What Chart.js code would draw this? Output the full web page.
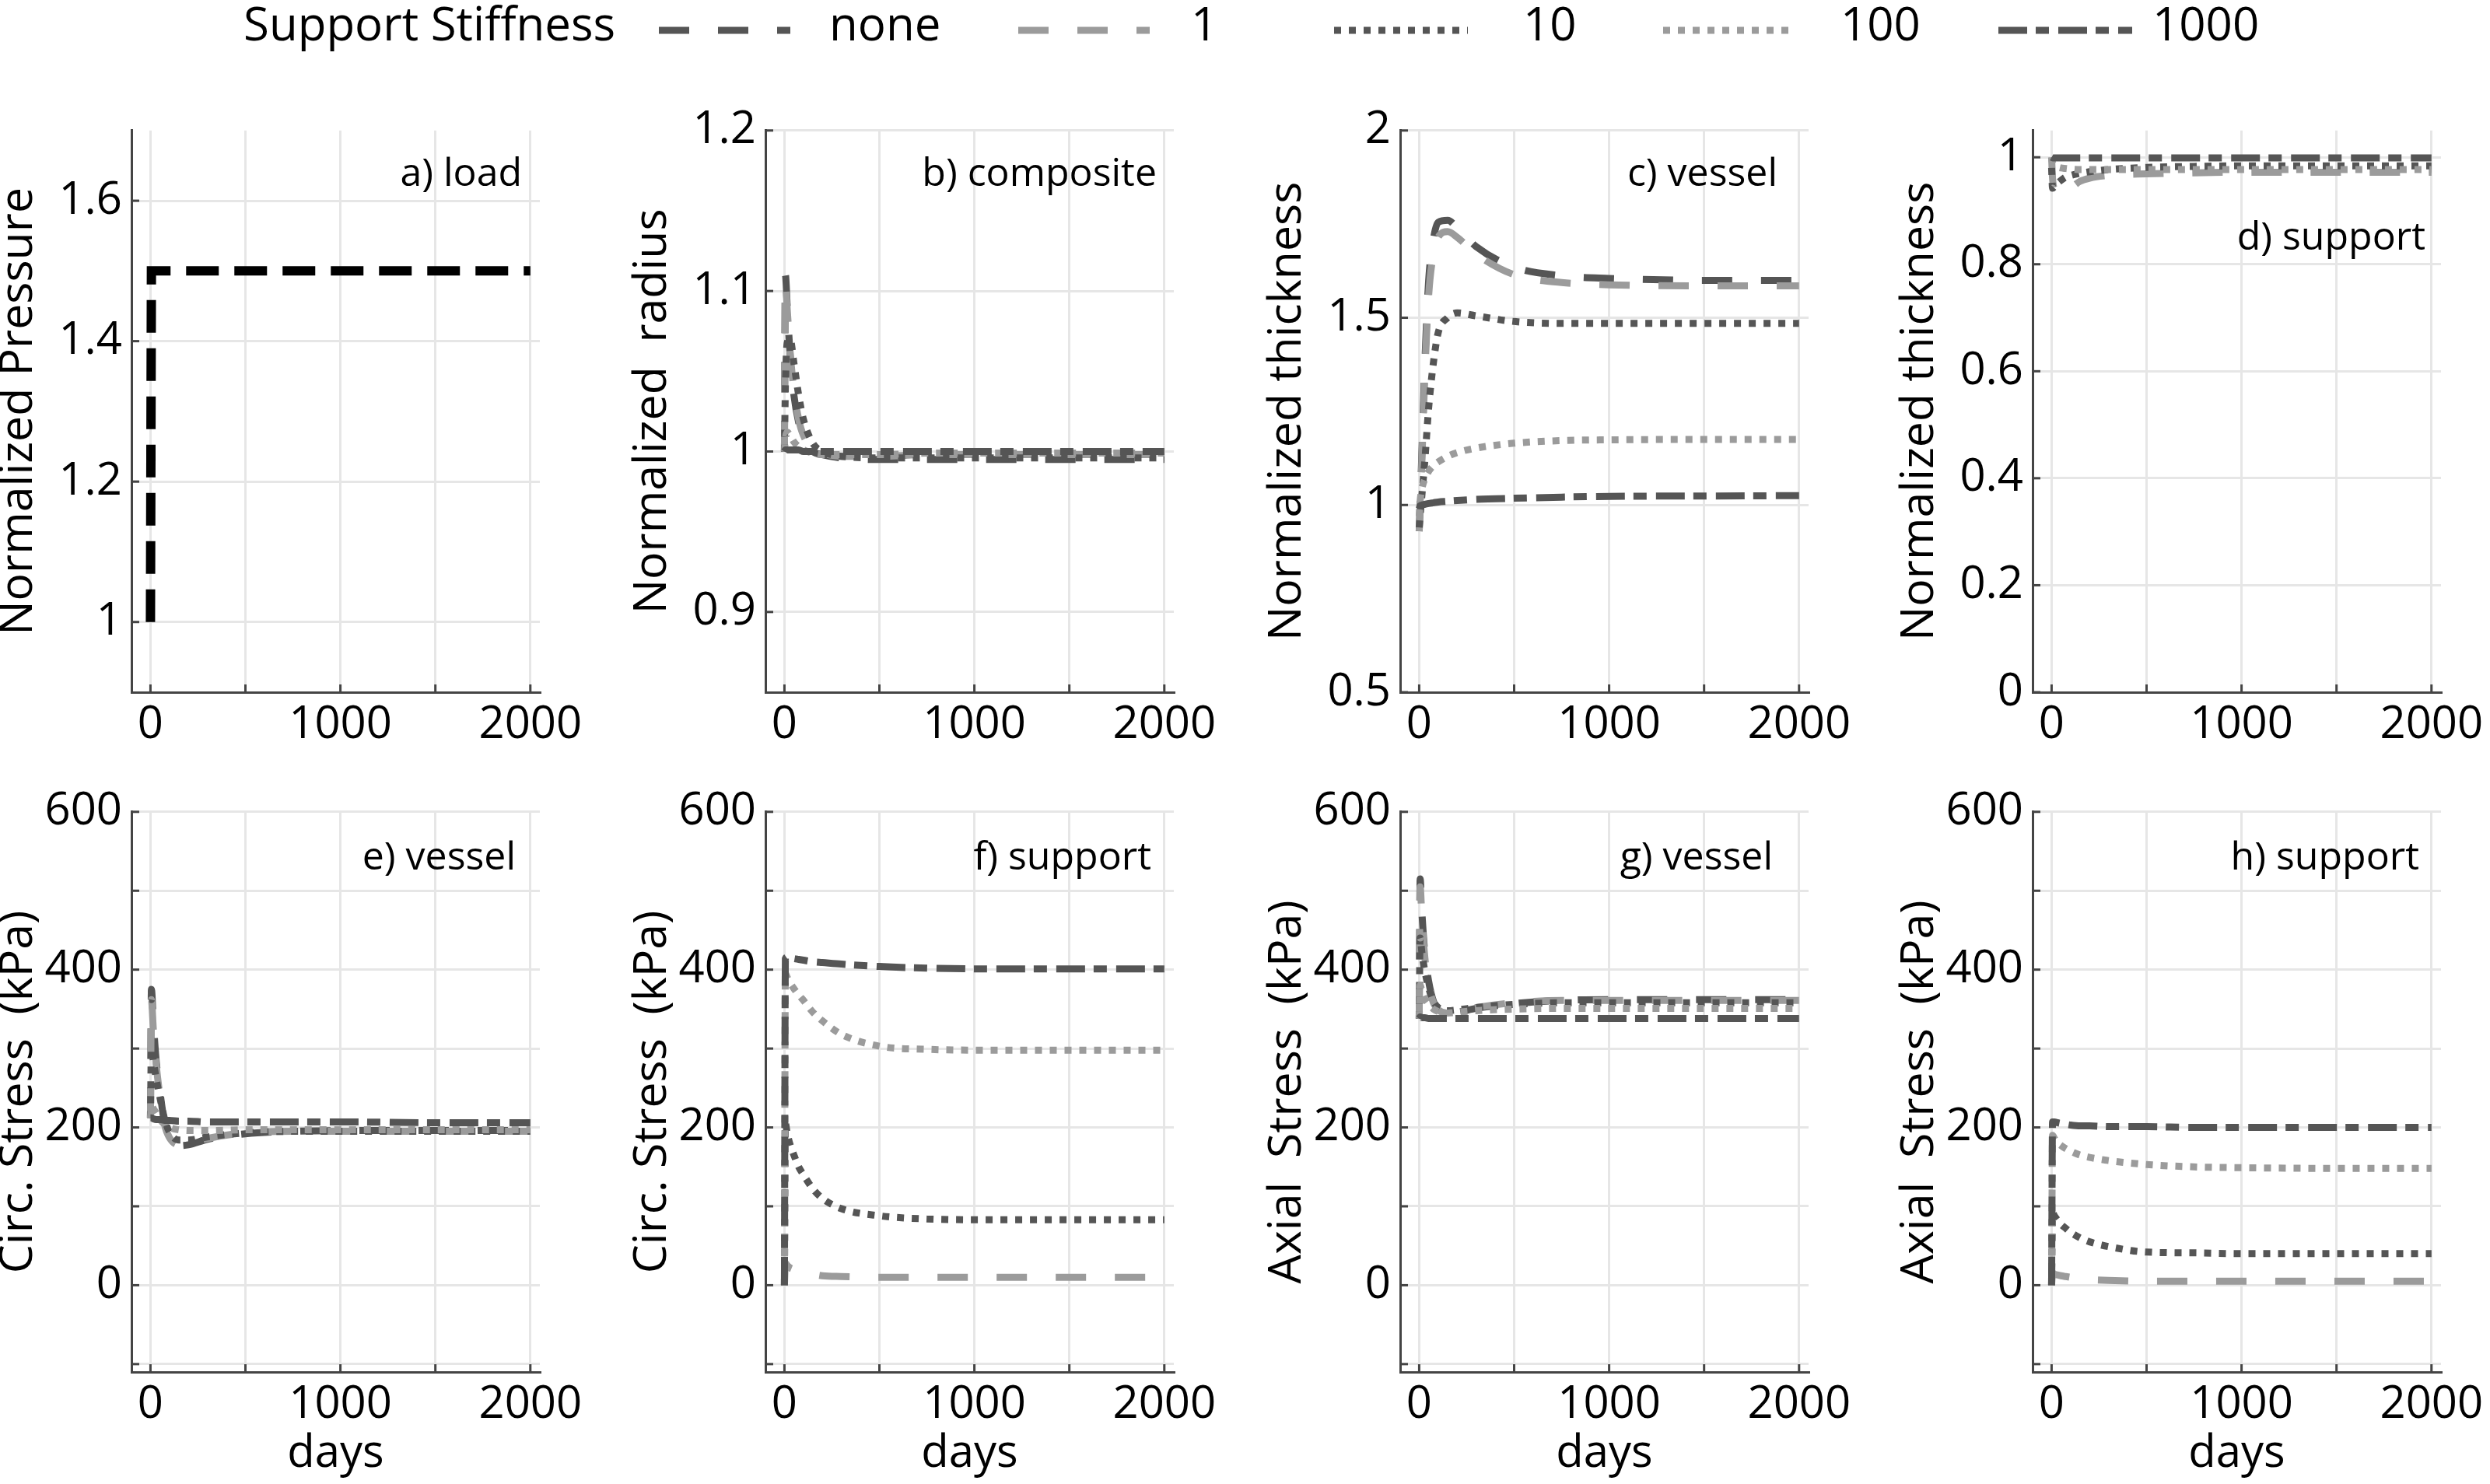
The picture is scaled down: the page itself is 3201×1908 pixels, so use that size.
<!DOCTYPE html>
<html>
<head>
<meta charset="utf-8">
<script src="https://cdn.jsdelivr.net/npm/chart.js@4.4.1/dist/chart.umd.min.js"></script>
<style>
  body { margin: 0; background: #fff; width: 3201px; height: 1908px; overflow: hidden; position: relative; }
  canvas { position: absolute; }
</style>
</head>
<body>
<canvas id="legend" width="3201" height="90" style="left:0;top:0"></canvas>
<script>
// time axis shared by all model curves (days)
const days = [0, 5, 15, 30, 50, 75, 100, 150, 200, 300, 500, 750, 1000, 1500, 2000];
const seriesNames = ["none", "1", "10", "100", "1000"];

// a) load
const loadDays = [0, 5, 2000];
const loadPressure = [1, 1.5, 1.5];

// b) composite radius
const radNone = [1.0, 1.11, 1.09, 1.06, 1.035, 1.018, 1.008, 1.0, 0.998, 0.996, 0.995, 0.995, 0.995, 0.995, 0.995];
const radOne = [1.0, 1.105, 1.088, 1.062, 1.038, 1.02, 1.01, 1.002, 0.999, 0.997, 0.997, 0.998, 0.998, 0.998, 0.998];
const radTen = [1.0, 1.04, 1.068, 1.07, 1.055, 1.035, 1.02, 1.005, 1.0, 0.997, 0.996, 0.996, 0.996, 0.996, 0.996];
const radHundred = [1.0, 1.008, 1.012, 1.01, 1.006, 1.003, 1.001, 0.999, 0.998, 0.998, 0.998, 0.999, 0.999, 0.999, 0.999];
const radThousand = [1.0, 1.001, 1.001, 1.001, 1.001, 1.001, 1.0, 1.0, 1.0, 1.0, 1.0, 1.0, 1.0, 1.0, 1.0];

// c) vessel thickness
const thkNone = [0.93, 1.0, 1.15, 1.38, 1.6, 1.71, 1.755, 1.76, 1.74, 1.69, 1.635, 1.612, 1.605, 1.6, 1.6];
const thkOne = [0.93, 0.99, 1.13, 1.35, 1.56, 1.67, 1.715, 1.73, 1.715, 1.67, 1.615, 1.594, 1.588, 1.585, 1.585];
const thkTen = [0.94, 0.97, 1.03, 1.12, 1.26, 1.38, 1.46, 1.5, 1.513, 1.505, 1.49, 1.485, 1.485, 1.485, 1.485];
const thkHundred = [0.97, 1.01, 1.045, 1.07, 1.09, 1.105, 1.115, 1.13, 1.14, 1.152, 1.165, 1.172, 1.174, 1.175, 1.175];
const thkThousand = [0.99, 0.998, 1.0, 1.002, 1.004, 1.006, 1.008, 1.01, 1.012, 1.015, 1.018, 1.021, 1.023, 1.024, 1.025];

// d) support thickness
const supOne = [1.0, 0.96, 0.94, 0.933, 0.931, 0.935, 0.942, 0.955, 0.961, 0.966, 0.969, 0.971, 0.972, 0.972, 0.972];
const supTen = [0.98, 0.942, 0.945, 0.951, 0.957, 0.963, 0.966, 0.97, 0.973, 0.977, 0.981, 0.983, 0.984, 0.984, 0.984];
const supHundred = [1.0, 0.99, 0.985, 0.982, 0.98, 0.979, 0.978, 0.977, 0.977, 0.977, 0.977, 0.977, 0.977, 0.977, 0.977];
const supThousand = [1.0, 0.999, 0.999, 0.999, 0.999, 0.999, 0.999, 0.999, 0.999, 0.999, 0.999, 0.999, 0.999, 0.999, 0.999];

// e) vessel circumferential stress (kPa)
const circNone = [212, 375, 335, 285, 245, 205, 188, 177, 178, 185, 192, 195, 196, 196, 196];
const circOne = [212, 362, 325, 280, 240, 203, 187, 178, 179, 186, 193, 195, 195, 195, 195];
const circTen = [212, 300, 285, 262, 238, 210, 194, 184, 184, 188, 193, 195, 195, 195, 195];
const circHundred = [212, 228, 224, 218, 210, 204, 200, 197, 196, 196, 197, 197, 197, 197, 197];
const circThousand = [212, 212, 211, 210, 210, 209, 209, 208, 208, 207, 207, 207, 207, 206, 206];

// f) support circumferential stress (kPa)
const supCircOne = [0, 28, 25, 22, 20, 18, 16, 14, 12, 11, 10, 10, 10, 10, 10];
const supCircTen = [0, 205, 192, 178, 165, 150, 140, 122, 110, 97, 88, 84, 83, 83, 83];
const supCircHundred = [0, 395, 390, 383, 376, 368, 361, 346, 335, 318, 303, 299, 298, 298, 298];
const supCircThousand = [0, 414, 416, 415, 414, 413, 412, 410, 409, 407, 404, 402, 401, 401, 401];

// g) vessel axial stress (kPa)
const axNone = [338, 515, 470, 420, 385, 360, 350, 345, 346, 351, 357, 361, 362, 362, 362];
const axOne = [338, 505, 462, 415, 380, 358, 349, 345, 347, 352, 358, 361, 361, 361, 361];
const axTen = [338, 440, 420, 398, 377, 360, 352, 348, 349, 352, 356, 358, 358, 358, 358];
const axHundred = [338, 380, 372, 363, 356, 350, 347, 345, 346, 348, 350, 351, 351, 351, 351];
const axThousand = [338, 340, 339, 339, 338, 338, 338, 338, 338, 338, 338, 338, 338, 338, 338];

// h) support axial stress (kPa)
const supAxOne = [0, 16, 14, 13, 12, 11, 10, 8, 7, 6, 5, 5, 5, 5, 5];
const supAxTen = [0, 92, 88, 83, 77, 72, 67, 60, 55, 49, 42, 41, 40, 40, 40];
const supAxHundred = [0, 190, 186, 181, 177, 173, 170, 165, 162, 158, 153, 150, 149, 148, 148];
const supAxThousand = [0, 207, 207, 206, 205, 204, 203, 202, 202, 201, 201, 200, 200, 200, 200];

// ticks
const dayTicks = [0, 500, 1000, 1500, 2000];
const dayLabels = [0, 1000, 2000];
const pressureTicks = [1, 1.2, 1.4, 1.6];
const radiusTicks = [0.9, 1, 1.1, 1.2];
const vesselThickTicks = [0.5, 1, 1.5, 2];
const supportThickTicks = [0, 0.2, 0.4, 0.6, 0.8, 1];
const stressTicks = [-100, 0, 100, 200, 300, 400, 500, 600];
const stressLabels = [0, 200, 400, 600];

const DARK = "#555555";
const LIGHT = "#9b9b9b";
const seriesStyle = {
  "none": { color: DARK, dash: [39, 37] },
  "1": { color: LIGHT, dash: [39, 37] },
  "10": { color: DARK, dash: [9, 10] },
  "100": { color: LIGHT, dash: [9, 10] },
  "1000": { color: DARK, dash: [37, 11, 17, 12] }
};

// layout of the 2x4 grid (page pixels)
const axisLeft = [169, 984, 1800, 2613];
const rowTop = [161, 1037];
const rowPlotH = [729, 727];
const plotW = 525;
const yAxisW = 200, padTop = 40, padRight = 64;
const xAxisH = [100, 145];

function lineSet(name, xs, ys, i) {
  const st = seriesStyle[name];
  return {
    label: name,
    data: xs.map((x, k) => ({ x: x, y: ys[k] })),
    borderColor: st.color,
    borderDash: st.dash,
    borderWidth: 9,
    borderCapStyle: "butt",
    borderJoinStyle: "round",
    cubicInterpolationMode: "monotone",
    pointRadius: 0,
    fill: false,
    order: 10 - i
  };
}

function curves(names, arrays) {
  return names.map((n, i) => lineSet(n, days, arrays[i], seriesNames.indexOf(n)));
}

const loadSet = {
  label: "load",
  data: loadDays.map((x, k) => ({ x: x, y: loadPressure[k] })),
  borderColor: "#000",
  borderDash: [42, 20],
  borderWidth: 12,
  borderCapStyle: "butt",
  pointRadius: 0,
  fill: false
};

const panels = [
  { col: 0, row: 0, min: 0.9, max: 1.7, yTicks: pressureTicks, yLabels: pressureTicks,
    title: "Normalized Pressure", tag: "a) load", tagRight: 23, tagDown: 71, sets: [loadSet] },
  { col: 1, row: 0, min: 0.85, max: 1.2, yTicks: radiusTicks, yLabels: radiusTicks,
    title: "Normalized  radius", tag: "b) composite", tagRight: 22, tagDown: 71,
    sets: curves(seriesNames, [radNone, radOne, radTen, radHundred, radThousand]) },
  { col: 2, row: 0, min: 0.5, max: 2, yTicks: vesselThickTicks, yLabels: vesselThickTicks,
    title: "Normalized thickness", tag: "c) vessel", tagRight: 40, tagDown: 71,
    sets: curves(seriesNames, [thkNone, thkOne, thkTen, thkHundred, thkThousand]) },
  { col: 3, row: 0, min: 0, max: 1.05, yTicks: supportThickTicks, yLabels: supportThickTicks,
    title: "Normalized thickness", tag: "d) support", tagRight: 20, tagDown: 153,
    sets: curves(["1", "10", "100", "1000"], [supOne, supTen, supHundred, supThousand]) },
  { col: 0, row: 1, min: -110, max: 600, yTicks: stressTicks, yLabels: stressLabels,
    title: "Circ. Stress  (kPa)", tag: "e) vessel", tagRight: 31, tagDown: 74,
    sets: curves(seriesNames, [circNone, circOne, circTen, circHundred, circThousand]) },
  { col: 1, row: 1, min: -110, max: 600, yTicks: stressTicks, yLabels: stressLabels,
    title: "Circ. Stress  (kPa)", tag: "f) support", tagRight: 29, tagDown: 74,
    sets: curves(["1", "10", "100", "1000"], [supCircOne, supCircTen, supCircHundred, supCircThousand]) },
  { col: 2, row: 1, min: -110, max: 600, yTicks: stressTicks, yLabels: stressLabels,
    title: "Axial  Stress  (kPa)", tag: "g) vessel", tagRight: 46, tagDown: 74,
    sets: curves(seriesNames, [axNone, axOne, axTen, axHundred, axThousand]) },
  { col: 3, row: 1, min: -110, max: 600, yTicks: stressTicks, yLabels: stressLabels,
    title: "Axial  Stress  (kPa)", tag: "h) support", tagRight: 28, tagDown: 74,
    sets: curves(["1", "10", "100", "1000"], [supAxOne, supAxTen, supAxHundred, supAxThousand]) }
];

// inward tick marks + panel tag text
const panelDecor = {
  id: "panelDecor",
  beforeDatasetsDraw(chart) {
    const ctx = chart.ctx, a = chart.chartArea;
    const xs = chart.scales.x, ys = chart.scales.y;
    ctx.save();
    ctx.strokeStyle = "#444";
    ctx.lineWidth = 3;
    ys.ticks.forEach(t => {
      const y = ys.getPixelForValue(t.value);
      ctx.beginPath(); ctx.moveTo(a.left, y); ctx.lineTo(a.left + 10, y); ctx.stroke();
    });
    xs.ticks.forEach(t => {
      const x = xs.getPixelForValue(t.value);
      ctx.beginPath(); ctx.moveTo(x, a.bottom); ctx.lineTo(x, a.bottom - 10); ctx.stroke();
    });
    ctx.restore();
  },
  afterDraw(chart, args, opts) {
    const ctx = chart.ctx, a = chart.chartArea;
    ctx.save();
    ctx.fillStyle = "#000";
    ctx.font = '50px "Open Sans"';
    ctx.textAlign = "right";
    ctx.textBaseline = "alphabetic";
    ctx.fillText(opts.tag, a.right - opts.right, a.top + opts.down);
    ctx.restore();
  }
};

function buildPanel(p) {
  const cv = document.createElement("canvas");
  const w = yAxisW + plotW + padRight;
  const h = padTop + rowPlotH[p.row] + xAxisH[p.row];
  cv.width = w;
  cv.height = h;
  cv.style.left = (axisLeft[p.col] - yAxisW) + "px";
  cv.style.top = (rowTop[p.row] - padTop) + "px";
  document.body.appendChild(cv);

  new Chart(cv.getContext("2d"), {
    type: "line",
    data: { datasets: p.sets },
    plugins: [panelDecor],
    options: {
      responsive: false,
      animation: false,
      events: [],
      layout: { padding: { top: padTop, right: padRight, left: 0, bottom: 0 } },
      plugins: {
        legend: { display: false },
        tooltip: { enabled: false },
        panelDecor: { tag: p.tag, right: p.tagRight, down: p.tagDown }
      },
      scales: {
        x: {
          type: "linear",
          min: -100,
          max: 2050,
          afterBuildTicks: s => { s.ticks = dayTicks.map(v => ({ value: v })); },
          afterFit: s => { s.height = xAxisH[p.row]; },
          ticks: {
            autoSkip: false, maxRotation: 0, padding: 8, color: "#000",
            font: { size: 58 },
            callback: v => dayLabels.includes(v) ? String(v) : ""
          },
          grid: { color: "#e6e6e6", lineWidth: 3, drawTicks: false },
          border: { color: "#444", width: 3 },
          title: { display: p.row === 1, text: "days", color: "#000", font: { size: 58 }, padding: { top: 0, bottom: 5 } }
        },
        y: {
          type: "linear",
          min: p.min,
          max: p.max,
          afterBuildTicks: s => { s.ticks = p.yTicks.map(v => ({ value: v })); },
          afterFit: s => { s.width = yAxisW; },
          ticks: {
            autoSkip: false, padding: 12, color: "#000",
            font: { size: 58 },
            callback: v => p.yLabels.includes(v) ? String(v) : ""
          },
          grid: { color: "#e6e6e6", lineWidth: 3, drawTicks: false },
          border: { color: "#444", width: 3 },
          title: { display: true, text: p.title, color: "#000", font: { size: 59 }, padding: { top: 20, bottom: 0 } }
        }
      }
    }
  });
}

// legend row: "Support Stiffness" followed by line samples
const legendPos = {
  "none": [847, 1016, 1066],
  "1": [1309, 1478, 1531],
  "10": [1715, 1887, 1958],
  "100": [2138, 2300, 2366],
  "1000": [2569, 2741, 2767]
};

function drawLegend() {
  const ctx = document.getElementById("legend").getContext("2d");
  ctx.fillStyle = "#000";
  ctx.font = '60px "Open Sans"';
  ctx.textBaseline = "alphabetic";
  ctx.fillText("Support Stiffness", 313, 52);
  seriesNames.forEach(n => {
    const st = seriesStyle[n];
    const pos = legendPos[n];
    ctx.save();
    ctx.strokeStyle = st.color;
    ctx.lineWidth = 9;
    ctx.lineCap = "butt";
    ctx.setLineDash(st.dash);
    ctx.beginPath();
    ctx.moveTo(pos[0], 39);
    ctx.lineTo(pos[1], 39);
    ctx.stroke();
    ctx.restore();
    ctx.fillText(n, pos[2], 52);
  });
}

function build() {
  Chart.defaults.font.family = '"Open Sans", sans-serif';
  Chart.defaults.color = "#000";
  drawLegend();
  panels.forEach(buildPanel);
}

document.fonts.load('58px "Open Sans"').then(build, build);
</script>
</body>
</html>
